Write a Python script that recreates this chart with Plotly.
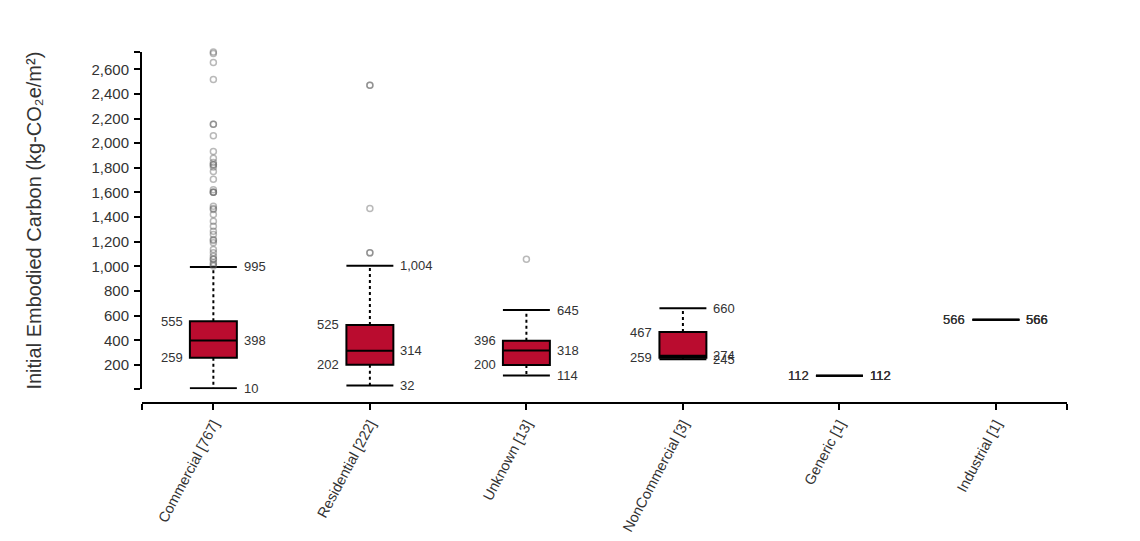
import plotly.graph_objects as go

# box statistics per building type
categories = ["Commercial [767]", "Residential [222]", "Unknown [13]",
              "NonCommercial [3]", "Generic [1]", "Industrial [1]"]
lower_whisker = [10, 32, 114, 245, 112, 566]
q1 = [259, 202, 200, 259, 112, 566]
median = [398, 314, 318, 274, 112, 566]
q3 = [555, 525, 396, 467, 112, 566]
upper_whisker = [995, 1004, 645, 660, 112, 566]

# outliers
outliers_commercial = [2740, 2727, 2654, 2517, 2153, 2153, 2061, 1932, 1878, 1843,
                       1824, 1824, 1806, 1770, 1708, 1622, 1601, 1601, 1601, 1487,
                       1470, 1461, 1420, 1366, 1326, 1285, 1259, 1218, 1210, 1191,
                       1137, 1110, 1083, 1057, 1057, 1030, 1015, 1002]
outliers_residential = [2470, 2470, 1470, 1110, 1110]
outliers_unknown = [1057]
outliers = [outliers_commercial, outliers_residential, outliers_unknown, [], [], []]

y_ticks = [200, 400, 600, 800, 1000, 1200, 1400, 1600, 1800, 2000, 2200, 2400, 2600]

BOX_W = 0.3
XR = [-0.456, 5.454]
YR = [2, 2740]
RED = "#BA0C2F"
FONT = "Liberation Sans, Arial, sans-serif"

pos = list(range(len(categories)))

fig = go.Figure()

# dashed whisker stems
wx, wy = [], []
for i in pos:
    wx += [i, i, None, i, i, None]
    wy += [q3[i], upper_whisker[i], None, q1[i], lower_whisker[i], None]
fig.add_trace(go.Scatter(x=wx, y=wy, mode="lines", hoverinfo="skip", cliponaxis=False,
                         line=dict(color="black", width=2, dash="dot")))

# boxes
fig.add_trace(go.Box(x=pos, q1=q1, median=median, q3=q3,
                     lowerfence=q1, upperfence=q3, width=BOX_W,
                     fillcolor=RED, line=dict(color="black", width=2),
                     whiskerwidth=0, boxpoints=False))

# whisker caps
cx, cy = [], []
for i in pos:
    for v in (upper_whisker[i], lower_whisker[i]):
        cx += [i - BOX_W / 2, i + BOX_W / 2, None]
        cy += [v, v, None]
fig.add_trace(go.Scatter(x=cx, y=cy, mode="lines", hoverinfo="skip", cliponaxis=False,
                         line=dict(color="black", width=2)))

# outliers
ox, oy = [], []
for i in pos:
    ox += [i] * len(outliers[i])
    oy += outliers[i]
fig.add_trace(go.Scatter(x=ox, y=oy, mode="markers", cliponaxis=False,
                         marker=dict(symbol="circle-open", size=6,
                                     color="rgba(100,100,100,0.45)",
                                     line=dict(width=1.5))))

# value labels
for i in pos:
    for v in (q3[i], q1[i]):
        fig.add_annotation(x=i - BOX_W / 2, y=v, text=f"{v:,}", showarrow=False,
                           xanchor="right", xshift=-5,
                           font=dict(family=FONT, size=13, color="#333"))
    for v in (upper_whisker[i], median[i], lower_whisker[i]):
        fig.add_annotation(x=i + BOX_W / 2, y=v, text=f"{v:,}", showarrow=False,
                           xanchor="left", xshift=5,
                           font=dict(family=FONT, size=13, color="#333"))

fig.update_layout(
    width=1140, height=541,
    margin=dict(l=134, r=81, t=44, b=146),
    plot_bgcolor="white", paper_bgcolor="white",
    showlegend=False,
    font=dict(family=FONT, color="#333"),
    xaxis=dict(range=XR, anchor="free", position=0,
               tickvals=[XR[0]] + pos + [XR[1]],
               ticktext=[""] + categories + [""],
               tickangle=-62, ticks="outside", ticklen=6, tickwidth=2,
               tickcolor="black", showline=True, linecolor="black", linewidth=2,
               showgrid=False, zeroline=False,
               tickfont=dict(family=FONT, size=14.5, color="#333")),
    yaxis=dict(range=YR, domain=[0.039, 1],
               tickvals=[YR[0]] + y_ticks + [YR[1]],
               ticktext=[""] + [f"{t:,}" for t in y_ticks] + [""],
               ticks="outside", ticklen=6, tickwidth=2, tickcolor="black",
               showline=True, linecolor="black", linewidth=2,
               showgrid=False, zeroline=False, ticklabelstandoff=2,
               tickfont=dict(family=FONT, size=15, color="#333"),
               title=dict(text="Initial Embodied Carbon (kg-CO₂e/m²)", standoff=44,
                          font=dict(family=FONT, size=20, color="#333"))),
)

fig.write_html("out.html")
